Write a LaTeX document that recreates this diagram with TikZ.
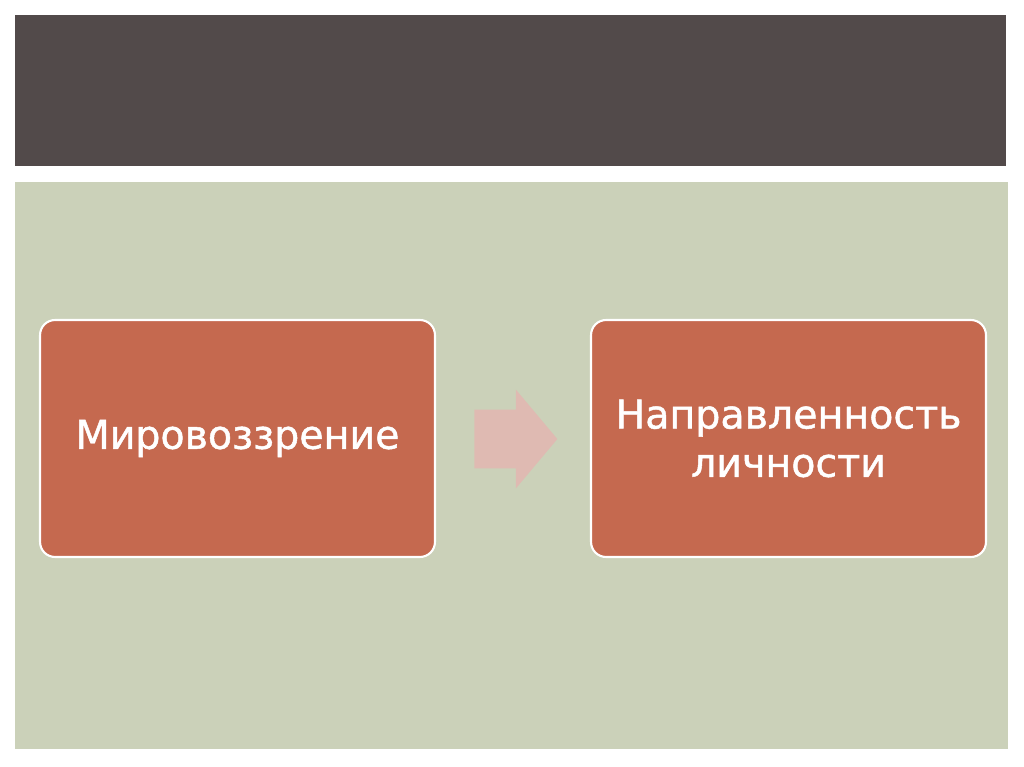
\documentclass[tikz,border=0pt]{standalone}
\usepackage{fontspec}
\newfontfamily\boxfont[FakeBold=1.2]{DejaVu Sans}
\usetikzlibrary{shapes.arrows}
\definecolor{bandgrey}{HTML}{524A4A}
\definecolor{panelgreen}{HTML}{CBD1B9}
\definecolor{boxred}{HTML}{C5694F}
\definecolor{arrowpink}{HTML}{DFBAB2}
\tikzset{
  termbox/.style={draw=white, line width=1.2pt, fill=boxred, rounded corners=0.3cm,
    minimum width=7.9cm, minimum height=4.74cm, text=white, align=center,
    font=\boxfont\fontsize{22.5}{27.5}\selectfont},
}
\begin{document}
\begin{tikzpicture}[x=0.02cm,y=-0.02cm]
		\fill[white] (0,0) rectangle (1024,767);
		\fill[bandgrey] (15,15) rectangle (1006,166);
		\fill[panelgreen] (15,182) rectangle (1008,749);

		\node[termbox] (view) at (237.5,438.5) {Мировоззрение};
		\node[termbox] (focus) at (788.5,438.5) {Направленность\\личности};

		\node[single arrow, fill=arrowpink, inner sep=0pt, minimum height=1.66cm,
		  text height=1.16cm, single arrow head extend=0.4cm, single arrow tip angle=100,
		  anchor=west] (step1) at (474,439) {};
\end{tikzpicture}
\end{document}
